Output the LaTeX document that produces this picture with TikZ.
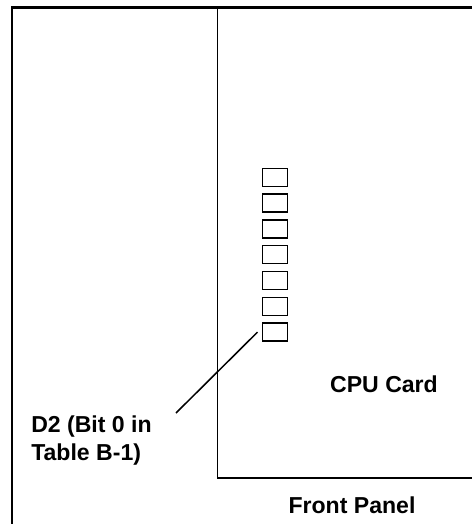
\documentclass[tikz,border=0pt]{standalone}
\usepackage{fontspec}
\setmainfont{Liberation Sans}
\usetikzlibrary{positioning,calc}

\begin{document}
\begin{tikzpicture}[x=0.75pt, y=-0.75pt,
  font=\bfseries\fontsize{17.3}{21}\selectfont,
  frm/.style={line width=1.8pt},
  crd/.style={line width=1.15pt},
  led/.style={draw, line width=1.15pt, minimum width=18.75pt, minimum height=13.5pt, inner sep=0pt},
  lbl/.style={align=left, inner sep=0pt}
]
\useasboundingbox (0,0) rectangle (472,524);
% front panel enclosure
\draw[frm] (12,524) -- (12,7.5) -- (472,7.5);
% cpu card outline
\draw[crd] (217.5,9) -- (217.5,478) -- (472,478);
\foreach \i in {1,...,7}
  \node[led] (led\i) at (274.8, {177.3+(\i-1)*25.8}) {};
\node[lbl, anchor=north west] (d2) at (31,416) {D2 (Bit 0 in\\Table B-1)};
\coordinate (ldr) at (176,413);
\draw[crd] ($(led7.west)+(-4,0)$) -- (ldr);
\node[inner sep=0pt] (cpu) at (384,384.5) {CPU Card};
\node[inner sep=0pt] (fp) at (352,505.5) {Front Panel};
\end{tikzpicture}
\end{document}
